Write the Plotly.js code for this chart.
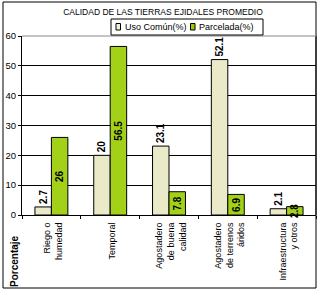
<!DOCTYPE html>
<html><head><meta charset="utf-8">
<script src="https://cdn.plot.ly/plotly-3.0.1.min.js"></script>
<style>html,body{margin:0;padding:0;background:#fff}#c{width:322px;height:294px}</style>
</head><body><div id="c"></div>
<script>
var categories = ["Riego o<br>humedad", "Temporal", "Agostadero<br>de buena<br>calidad", "Agostadero<br>de terrenos<br>áridos", "Infraestructura<br>y otros"];
var usoComun = [2.7, 20, 23.1, 52.1, 2.1];
var parcelada = [26, 56.5, 7.8, 6.9, 2.8];
var seriesNames = ["Uso Común(%)", "Parcelada(%)"];
var seriesColors = ["#f2f2d2", "#99cc00"];
var yTicks = [0, 10, 20, 30, 40, 50, 60];

var F = "Liberation Sans, Arial, sans-serif";
var traces = [
  {type:"bar", x:categories, y:usoComun, name:seriesNames[0],
   marker:{color:seriesColors[0], line:{color:"#000", width:1},
     pattern:{shape:".", fgcolor:"#d8d8a8", bgcolor:"#f8f8e2", size:2, solidity:0.5}},
   text:usoComun.map(String), textposition:"outside", textangle:-90,
   textfont:{family:F, size:10, color:"#000", weight:"bold"}, cliponaxis:false},
  {type:"bar", x:categories, y:parcelada, name:seriesNames[1],
   marker:{color:seriesColors[1], line:{color:"#000", width:1},
     pattern:{shape:".", fgcolor:"#b0d838", bgcolor:"#99cc00", size:2, solidity:0.5}},
   text:parcelada.map(String), textposition:"inside", insidetextanchor:"middle", textangle:-90,
   textfont:{family:F, size:10, color:"#000", weight:"bold"}, cliponaxis:false}
];
var L = 22, T = 36, W = 294, H = 179;
function px(x){return (x-L)/W;}
function py(y){return (T+H-y)/H;}
var legendShapes = [
  {type:"rect", xref:"paper", yref:"paper", x0:px(111), x1:px(263), y0:py(35), y1:py(19),
   line:{color:"#000", width:1}, fillcolor:"#fff", layer:"above"},
  {type:"rect", xref:"paper", yref:"paper", x0:px(116), x1:px(120.5), y0:py(30), y1:py(23.5),
   line:{color:"#000", width:1}, fillcolor:seriesColors[0], layer:"above"},
  {type:"rect", xref:"paper", yref:"paper", x0:px(190.5), x1:px(195), y0:py(30), y1:py(23.5),
   line:{color:"#000", width:1}, fillcolor:seriesColors[1], layer:"above"}
];
var layout = {
  width:322, height:294, margin:{l:L, r:322-L-W, t:T, b:294-T-H},
  paper_bgcolor:"#fff", plot_bgcolor:"#fff",
  font:{family:F, size:9, color:"#000"},
  barmode:"group", bargap:0.44, bargroupgap:0,
  uniformtext:{minsize:10, mode:"show"},
  title:{text:"CALIDAD DE LAS TIERRAS EJIDALES PROMEDIO", font:{family:F, size:8.5, color:"#000"},
    x:163/322, xref:"container", xanchor:"center", y:1-12/294, yanchor:"middle"},
  showlegend:false,
  xaxis:{type:"category", showline:true, linecolor:"#000", linewidth:1, ticks:"outside", ticklen:3,
    tickcolor:"#000", tickson:"boundaries", tickangle:-90, tickfont:{family:F, size:9, color:"#000"},
    ticklabelstandoff:3, ticklabelshift:2, showgrid:false, mirror:false},
  yaxis:{range:[0,60], tickvals:yTicks, showline:true, linecolor:"#000", linewidth:1, ticks:"outside",
    ticklen:3, tickcolor:"#000", showgrid:true, gridcolor:"#000", gridwidth:1, zeroline:false,
    tickfont:{family:F, size:9.5, color:"#000"}},
  shapes:[
    {type:"rect", xref:"paper", yref:"paper", x0:px(3), x1:px(316), y0:py(288), y1:py(2),
     line:{color:"#000", width:1}, fillcolor:"rgba(0,0,0,0)"},
    {type:"line", xref:"paper", yref:"paper", x0:1, x1:1, y0:0, y1:1, line:{color:"#000", width:1}},
    {type:"line", xref:"paper", yref:"paper", x0:0, x1:1, y0:1, y1:1, line:{color:"#888", width:1}}
  ].concat(legendShapes),
  annotations:[
    {text:"<b>Porcentaje</b>", xref:"paper", yref:"paper", x:px(14), xanchor:"center",
     y:py(289), yanchor:"bottom", textangle:-90,
     showarrow:false, font:{family:F, size:10, color:"#000"}},
    {text:seriesNames[0], xref:"paper", yref:"paper", x:px(123), xanchor:"left", y:py(27), yanchor:"middle",
     showarrow:false, font:{family:F, size:9, color:"#000"}},
    {text:seriesNames[1], xref:"paper", yref:"paper", x:px(197), xanchor:"left", y:py(27), yanchor:"middle",
     showarrow:false, font:{family:F, size:9, color:"#000"}}
  ]
};
Plotly.newPlot("c", traces, layout, {displayModeBar:false, staticPlot:true});
</script></body></html>
